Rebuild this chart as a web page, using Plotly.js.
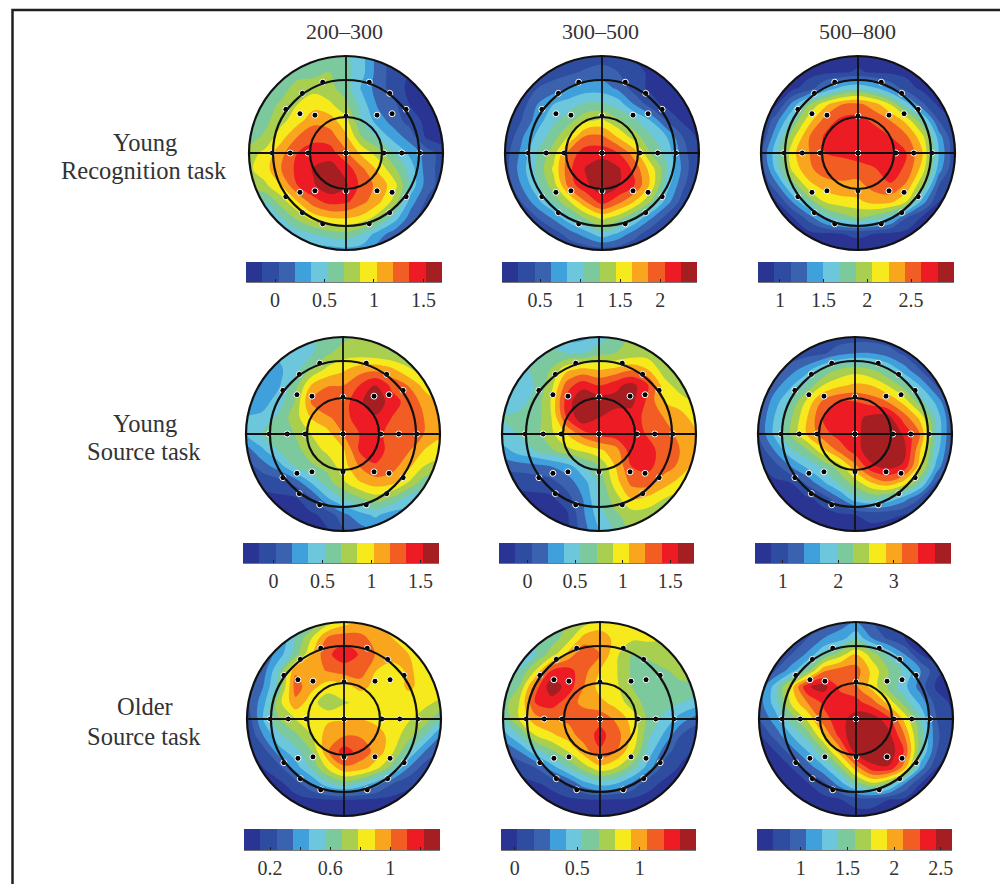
<!DOCTYPE html>
<html><head><meta charset="utf-8">
<script src="https://cdn.plot.ly/plotly-3.0.1.min.js"></script>
<style>html,body{margin:0;padding:0;background:#fff}#g{width:1000px;height:884px}</style>
</head><body><div id="g"></div>
<script>
const bandColors=['#2a3493','#2f4da0','#3a62ae','#40a0db','#6dc7dc','#7bc99c','#a8cf50','#f6ea1c','#f9a51e','#f15d22','#ed1c24','#a51e22'];
const colTitles=['200–300','300–500','500–800'];
const rowLabels=[['Young','Recognition task'],['Young','Source task'],['Older','Source task']];
// electrode positions, in head radii
const elecX=[0,0,0,-.76,-.575,-.39,.39,.575,.76,-.24,.24,-.45,.45,-.62,.62,-.475,.475,-.32,.32,-.62,.62,-.475,.475,-.32,.32,-.45,.45,-.24,.24];
const elecY=[.38,0,-.39,0,0,0,0,0,0,.73,.73,.615,.615,.45,.45,.405,.405,.39,.39,-.45,-.45,-.405,-.405,-.39,-.39,-.615,-.615,-.73,-.73];
const gridAxis=[-1,-.8333,-.6667,-.5,-.3333,-.1667,0,.1667,.3333,.5,.6667,.8333,1];
// colour-band readings (0..12 along each colour bar), rows top to bottom of the head
const youngRec200=[
[5.5,5.5,5.5,5.5,5.5,5.5,5.2,4.3,2.5,1.5,1,.8,.8],
[5.5,5.5,5.5,5.5,5.6,6,5.3,4.3,2.5,1.5,.9,.7,.7],
[5.5,5.5,5.5,6.5,6.7,6.3,5.5,3.8,2.5,1.5,.7,.6,.5],
[5.5,5.5,6.2,7,7.6,7.2,6.2,4.5,2.8,2.2,.9,.5,.5],
[5.5,5.7,6.7,7.6,8.7,8.5,7.3,5,3.5,2.5,1.5,.7,.5],
[5.5,6.2,7.6,9,9.7,9.5,8.2,6,4.8,3.5,2.5,.8,.5],
[6.5,7.3,8.7,10,10.5,10.5,9.2,7.7,6.5,5,3.7,2.5,1.5],
[6.8,7.6,9,10.3,11.1,11.5,10.6,9.2,7.8,6.2,4.5,2.5,1.5],
[6.5,6.8,8,10,10.9,11.7,11.2,9.6,8.7,7.4,4.7,2.5,1.5],
[4.5,5,6.5,8,9.6,10.4,10.2,9.3,8.3,6.6,3.5,1.8,1],
[3.5,3.8,5,6.3,7.5,8,8.1,7.7,6.5,4.5,2.5,1.2,1],
[3,3.5,4,4.5,5,5.5,5.7,5,3.5,2.5,1.5,1,1],
[3,3,3,3.2,3.4,3.5,3.7,3.5,2.5,1.5,1,1,1]];
const youngRec300=[
[.7,.7,.8,.9,1,1.2,1.4,1.2,.9,.7,.6,.5,.5],
[.8,.9,1,1.5,1.8,2.2,2.5,2,1.2,.9,.7,.5,.5],
[.8,1,2,2.5,3,3.5,3.5,2.8,1.5,.8,.6,.5,.5],
[1,1.5,3,4,4.6,5.2,5.2,4.6,3,1.5,.7,.5,.5],
[1,2,3.5,4.8,5.7,6.8,7.2,6.2,5.2,4,2,.8,.6],
[1,2.8,4.3,5.6,7.2,9.2,9.2,7.9,6.5,5.2,4,2,.7],
[1.5,3.2,5,6.5,9.5,10.5,10.6,10,8.5,6,4.7,2.5,.8],
[1.5,3.5,5.2,7.2,9.8,11.1,11.7,11.2,9.7,7.6,5.2,2.7,.8],
[1.2,3,4.8,6.5,9.5,10.8,11.6,11.1,10,7.8,4.5,2.2,.8],
[1,2,3.7,5.3,7,9,10.5,9.4,8,6,3.5,1.5,.7],
[.8,1.2,2,3.2,4.8,6.2,7.3,6.5,5,3.2,1.6,.9,.6],
[.7,.9,1.2,1.5,2.5,3.5,4.7,3.8,2.5,1.3,.9,.7,.6],
[.6,.7,.8,1,1.2,1.4,1.5,1.4,1.1,.8,.7,.6,.5]];
const youngRec500=[
[.5,.5,.5,.5,.5,.6,.7,.6,.5,.5,.5,.5,.5],
[.5,.5,.6,.7,.8,.9,1.1,.9,.8,.7,.5,.5,.5],
[.5,.6,.8,1.5,3.2,4.4,4.9,4.2,2.8,1.5,.7,.5,.5],
[.5,1,3.5,6,7.8,9,9.3,8.5,7,4.5,2.2,.8,.5],
[.7,2.8,5.3,7.7,9.5,10.3,10.4,9.8,9,7.7,5.2,2,.8],
[1,4,6.8,9,10.2,10.6,10.6,10.6,10,9.2,7.3,3.5,1],
[2,4.8,7.8,9,10,10.2,10.6,10.7,10.6,10,8,4,1.2],
[1.5,4.5,7.4,8.8,9.6,9.5,9.5,9.9,10.5,9.8,7.5,3.5,1],
[.8,2.8,5.5,7.7,8.5,8.8,8.7,9.4,9.9,8.8,6,2,.8],
[.5,1,3.2,5.5,7.2,7.6,7.8,8.4,8.3,7,3.5,1,.5],
[.5,.6,1,2.5,4.5,5.5,6,5.5,4.5,2,.8,.5,.5],
[.5,.5,.6,.7,.8,1,1.2,1,.8,.7,.5,.5,.5],
[.5,.5,.5,.5,.5,.5,.5,.5,.5,.5,.5,.5,.5]];
const youngSrc200=[
[4,4,4.2,4.5,4.8,5.5,5.7,6.3,6.3,6.2,6,6,6],
[3.8,4,4.2,4.5,4.8,5.8,6.5,6.5,6.3,6,6,6,6],
[3.5,3.6,3.8,4.5,6,7.2,7.8,8.5,8.7,8.2,7.2,6.5,6.5],
[3.5,3.5,3.8,5.5,8,8.9,9,10,11.1,9.8,9,7.7,7],
[3.5,3.5,4.5,6,9,10,9.5,10.7,11.9,10.4,9.7,8.7,7.7],
[4,4.3,5.2,6.5,8,8.8,9.5,10.6,10.8,10,9.5,9,8.2],
[4,5,5.5,6,7,7.6,9,10,10.5,9.5,9.7,9,8.2],
[2.5,3.8,5,5.6,6.5,7.2,7.8,10.1,10.4,9.7,9.2,8,7.5],
[1.5,2.5,3.5,5,5.8,6.3,7.5,9,9.9,9.5,8.3,7,6.5],
[1,1.2,1.5,2.3,4,5.5,6.8,7.9,8.5,8.3,7,5.5,5],
[.7,.8,.8,.8,1.8,3.8,5,5.8,6.5,5.8,4.6,4,4],
[.6,.6,.7,.7,.8,1.3,2.7,3.6,4.2,3.5,3.5,3.5,3.5],
[.5,.5,.5,.6,.7,.9,1.8,2.5,3,3,3,3,3]];
const youngSrc300=[
[4.5,4.5,4.5,4.5,3.5,3.7,4.2,5.5,6,6,6,6,6],
[4.5,4.5,4.5,5.2,5,5,5.8,6,6.3,6.5,6,6,6],
[4.5,4.5,5.2,6,7.7,8.2,7.9,8.2,8.8,8,6.5,6,6],
[4.5,4.5,5,6.5,9.5,10.7,10,10.7,11.4,10.2,7.5,6.5,6.3],
[4.5,4.7,5.2,7,10.5,11.9,11.7,11.4,11.3,9.8,8,7.5,6.8],
[5,5.2,5.4,6.8,10,11.8,11,10.5,10.5,9.7,9,8.5,7.5],
[4.8,5,5.5,6.7,8,9.5,10.4,10.6,10.5,9.9,9.5,8.7,8.2],
[3.5,4.5,5,5.8,6.7,7.2,7.8,8.5,10.6,10.4,9.6,9,8.2],
[2.5,2.5,2.7,3,3.5,4.8,6,8,10,10.3,9.5,8.8,7.5],
[1,1.2,1.3,1.6,2.5,3.5,5.2,7.5,9.3,9.5,8.5,7.6,7],
[.7,.8,.8,.8,1.5,3,5,6.5,8,7.7,7,6.5,6],
[.6,.6,.7,.7,.8,2.8,4.5,5.8,6.5,6.5,6,6,6],
[.6,.6,.6,.7,.8,2.5,4,5,6,6,6,6,6]];
const youngSrc500=[
[1,1,1,1.2,1.3,1.4,1.5,1.5,1.4,1.2,1,1,1],
[1,1,1.2,1.5,1.8,2.6,3,3,2.5,1.8,1.2,1,1],
[1,1.5,2.5,3.5,5,6,6.5,6,5,3.5,2,1.2,1],
[1.5,2.5,3.8,5.2,7,7.8,8.2,8,7,5.6,4,2,1.2],
[1.5,3.5,5,7.2,9.2,10,10,9.6,9,7.7,5.5,3.8,1.5],
[2,4,5.8,7.9,10,10.6,10.7,11.3,11.5,9.6,7.8,4.8,2],
[2,4.2,6,8,9.6,10.4,10.6,11.7,11.9,10.9,9,5,2],
[1.2,3,4.8,5.8,7.7,9.3,10.5,11.7,11.9,11.5,8.2,4.6,1.8],
[.8,1.5,3,4.2,5.2,6.5,8.7,10.8,11.4,10.8,7.6,3.8,1.2],
[.6,.8,1,2.2,3.8,5.2,6.5,8,8.8,7.7,5.3,2,1],
[.5,.6,.7,.8,1.3,2.8,4.6,5.2,4.8,3.5,2,1,.8],
[.5,.5,.5,.6,.7,.8,1,1.4,1.2,1,.8,.7,.6],
[.5,.5,.5,.5,.5,.5,.5,.6,.6,.5,.5,.5,.5]];
const olderSrc200=[
[2,2.5,3,4,5,6.5,7.5,8,8,8,8,8,8],
[2,2.2,3,5,7,9.2,9.6,9.4,8.5,8,8,8,8],
[2,2.2,3.5,5.5,8,9.8,10.6,9.9,8.9,8.5,8,8,8],
[1.8,2.5,5,8.8,8.5,9.1,9.5,9.7,8,7.5,8.2,7.5,7.5],
[1.8,3,5.5,9.5,8.3,7.5,7.6,8.3,7.7,7.4,8.2,7.6,7.5],
[1.8,3.6,6.7,8.7,7.4,6.3,6.9,7.2,7.3,7.3,7.4,7.2,6.8],
[1.2,4,6,7,7.5,7.8,7.9,8,7.6,7.3,7.1,6.6,5],
[.9,3,4.8,5.8,7,8.5,8.9,8.9,8.6,7.5,6.5,5,3],
[.7,1.5,3.6,4.6,6,8.9,10.5,9.6,8.7,7.2,5,3,2],
[.6,1,1.7,3.5,5.2,7.2,8.8,8.6,7.4,5.5,3,1.5,1],
[.5,.7,.8,1.5,3,4.7,5.5,4.8,3.5,2,1.2,.8,.7],
[.5,.5,.6,.7,.8,.9,1,.9,.8,.7,.6,.5,.5],
[.5,.5,.5,.5,.5,.5,.5,.5,.5,.5,.5,.5,.5]];
const olderSrc300=[
[5,5,5,5,6,6.5,7,7.2,7.2,7.2,7.2,7,7],
[5,5,5,5.5,6.5,8.4,8.9,7.5,7.2,7.2,7,7,7],
[5,5,5,6.5,8.3,9.9,9,7.2,6,6.3,6.8,6.5,6.5],
[5,5,7,10,10.4,9.4,8,7.1,5.8,5.4,5.9,6.3,6.3],
[5,6,9.5,11.7,10.6,9,7.6,7.2,6,5.3,5.4,5.8,5.8],
[5.5,7,10,10.5,9.5,8.7,8.3,7.6,6.5,5.6,5.4,5,4.5],
[5,7,8.6,9,9.2,9.7,9.7,8.8,7.6,5.7,4.7,3.5,2.5],
[3.5,5,7,7.8,8.5,9.5,10.3,9.5,7.8,5.2,3.8,2,1],
[2,3,4.6,5.8,7,8.5,9.9,9,7.2,4.6,2.5,1.3,.8],
[1,1.2,2,3.5,5,6.5,7.7,7,5.5,3.5,1.5,.9,.7],
[.7,.8,.9,1.2,2,3.6,4.4,4,2.8,1.3,.8,.7,.6],
[.5,.6,.7,.7,.8,.9,1,.9,.8,.7,.6,.5,.5],
[.5,.5,.5,.5,.5,.5,.5,.5,.5,.5,.5,.5,.5]];
const olderSrc500=[
[.8,.9,1,1.5,2,2.5,3,2,1.5,1,.8,.7,.7],
[.9,1,1.5,2,3,3.5,4.8,3,1.8,1,.7,.7,.7],
[1,1.5,2,3.2,5,6.5,8,6.5,4.8,3,1,.7,.7],
[1.5,2,3.5,5.5,8.8,9.5,9.5,7.7,6,4.8,3,1.2,.7],
[2,4.5,7.5,10.9,11.4,9.8,9.2,7.6,5.8,4.3,2.5,.8,.7],
[2.5,4.5,7.2,9,10.2,10.5,10.4,9.5,7.7,5.6,3.7,1.5,.8],
[2,3.5,5.5,7.2,9.6,10.6,11.5,11.6,10.4,7.7,5,2,1],
[.9,2.4,4,5.5,8,10.4,11.9,11.9,11.4,9,5.5,2.2,1],
[.7,1,2.5,4,5.8,8.5,11.6,11.9,11.8,9.9,5.2,2,1],
[.6,.7,1,2.4,3.8,5.8,8.6,10.7,10.9,8.5,3.5,1,.8],
[.5,.6,.7,.9,1.7,3.5,5.5,6.8,5.8,3,1,.8,.7],
[.5,.5,.6,.6,.7,.9,1.5,1.5,1,.8,.7,.6,.5],
[.5,.5,.5,.5,.5,.5,.5,.5,.5,.5,.5,.5,.5]];
const panelGrids=[youngRec200,youngRec300,youngRec500,youngSrc200,youngSrc300,youngSrc500,olderSrc200,olderSrc300,olderSrc500];
// colour bar ranges and ticks
const barMin=[-.293,.025,.75,-.31,-.30,.50,.027,-.11,.53];
const barMax=[1.687,2.46,2.99,1.69,1.75,4.03,1.33,1.45,2.62];
const tickVals=[[0,.5,1,1.5],[.5,1,1.5,2],[1,1.5,2,2.5],[0,.5,1,1.5],[0,.5,1,1.5],[1,2,3],[.2,.4,.6,.8,1,1.2],[0,.5,1],[1,1.5,2,2.5]];
const tickText=[['0','0.5','1','1.5'],['0.5','1','1.5','2'],['1','1.5','2','2.5'],['0','0.5','1','1.5'],['0','0.5','1','1.5'],['1','2','3'],['0.2','','0.6','','1',''],['0','0.5','1'],['1','1.5','2','2.5']];
// layout in page pixels
const headCX=[346,602,858,343,599,855,344,600,856];
const headCY=[153,153,153,434,434,434,719,719,719];
const barL=[246,502,758,243,499,755,244,501,757];
const barR=[442,697,954,439,694,951,440,696,952];
const barT=[262,262,262,543,543,543,829,829,829];
const barB=[282,282,282,563,563,563,850,850,850];
const W=1000,H=884,R=97,half=100;
const ringR=[1,73/97,36/97];
const span=half/R;

const colorscale=bandColors.map((c,i)=>[i/11,c]);
const fx=p=>p/W, fy=p=>1-p/H;
const data=[],shapes=[],layout={width:W,height:H,margin:{l:0,r:0,t:0,b:0},paper_bgcolor:'#fff',plot_bgcolor:'rgba(0,0,0,0)',showlegend:false,shapes,annotations:[],font:{family:'"Liberation Serif",serif',color:'#2b2b2b'}};
function ringPath(r,rev){let s='';const n=120;for(let i=0;i<=n;i++){const t=(rev?-1:1)*i/n*2*Math.PI;s+=(i?'L':'M')+(r*Math.cos(t)).toFixed(4)+','+(r*Math.sin(t)).toFixed(4);}return s+'Z';}
const outer=`M${-span},${-span}L${span},${-span}L${span},${span}L${-span},${span}Z`;
panelGrids.forEach((grid,i)=>{
  const a=2*i+1,b=2*i+2;
  const xk=a===1?'x':'x'+a,yk=a===1?'y':'y'+a;
  const xk2='x'+b,yk2='y'+b;
  const step=(barMax[i]-barMin[i])/12;
  const z=grid.slice().reverse().map(r=>r.map(v=>barMin[i]+v*step));
  data.push({type:'contour',x:gridAxis,y:gridAxis,z,xaxis:xk,yaxis:yk,autocontour:false,
    contours:{start:barMin[i]+step,end:barMax[i]-step*.999,size:step,coloring:'fill',showlines:false},
    line:{width:0,smoothing:1},colorscale,showscale:false,hoverinfo:'skip'});
  const common={visible:false,fixedrange:true};
  layout[(a===1?'xaxis':'xaxis'+a)]={...common,range:[-span,span],domain:[fx(headCX[i]-half),fx(headCX[i]+half)],anchor:yk};
  layout[(a===1?'yaxis':'yaxis'+a)]={...common,range:[-span,span],domain:[fy(headCY[i]+half),fy(headCY[i]-half)],anchor:xk};
  shapes.push({type:'path',xref:xk,yref:yk,path:outer+ringPath(1,true),fillcolor:'#fff',line:{width:0},layer:'above'});
  ringR.forEach(r=>shapes.push({type:'circle',xref:xk,yref:yk,x0:-r,x1:r,y0:-r,y1:r,line:{color:'#111',width:2.2},layer:'above'}));
  shapes.push({type:'line',xref:xk,yref:yk,x0:-1,x1:1,y0:0,y1:0,line:{color:'#111',width:1.8},layer:'above'});
  shapes.push({type:'line',xref:xk,yref:yk,x0:0,x1:0,y0:-1,y1:1,line:{color:'#111',width:1.8},layer:'above'});
  // colour bar
  const centres=bandColors.map((_,k)=>barMin[i]+(k+.5)*step);
  data.push({type:'heatmap',x:centres,y:[0],z:[centres],xaxis:xk2,yaxis:yk2,colorscale,zmin:centres[0],zmax:centres[11],showscale:false,hoverinfo:'skip'});
  layout['xaxis'+b]={range:[barMin[i],barMax[i]],domain:[fx(barL[i]),fx(barR[i])],anchor:yk2,fixedrange:true,showgrid:false,zeroline:false,
    showline:true,linecolor:'#777',linewidth:1,tickmode:'array',tickvals:tickVals[i],ticktext:tickText[i],ticks:'inside',ticklen:3,tickcolor:'#222',tickwidth:1,
    ticklabelstandoff:0,tickfont:{size:20,family:'"Liberation Serif",serif',color:'#333'}};
  layout['yaxis'+b]={visible:false,fixedrange:true,range:[-.5,.5],domain:[fy(barB[i]),fy(barT[i])],anchor:xk2};
});
// electrodes on transparent overlay axes, so they sit above the ring shapes
panelGrids.forEach((grid,i)=>{
  const n=19+i,xk='x'+n,yk='y'+n;
  layout['xaxis'+n]={visible:false,fixedrange:true,range:[-span,span],domain:[fx(headCX[i]-half),fx(headCX[i]+half)],anchor:yk};
  layout['yaxis'+n]={visible:false,fixedrange:true,range:[-span,span],domain:[fy(headCY[i]+half),fy(headCY[i]-half)],anchor:xk};
  data.push({type:'scatter',mode:'markers',x:elecX,y:elecY,xaxis:xk,yaxis:yk,marker:{color:'#000',size:6,line:{color:'#fff',width:1}},hoverinfo:'skip'});
});
const ann=(t,x,y,s)=>layout.annotations.push({text:t,xref:'paper',yref:'paper',x:x/W,y:1-y/H,xanchor:'center',yanchor:'middle',showarrow:false,font:{size:s,color:'#333'}});
[344,600,857].forEach((x,i)=>ann(colTitles[i],x,32,22));
[[142,171],[423,452],[706,736]].forEach((ys,i)=>{ann(rowLabels[i][0],145,ys[0],24.5);ann(rowLabels[i][1],144,ys[1],24.5);});
// page frame
shapes.push({type:'path',xref:'paper',yref:'paper',path:`M${12.5/W},0L${12.5/W},${1-10/H}L1,${1-10/H}`,line:{color:'#231f20',width:2.5},fillcolor:'rgba(0,0,0,0)'});
Plotly.newPlot('g',data,layout,{displayModeBar:false,staticPlot:true});
</script></body></html>
